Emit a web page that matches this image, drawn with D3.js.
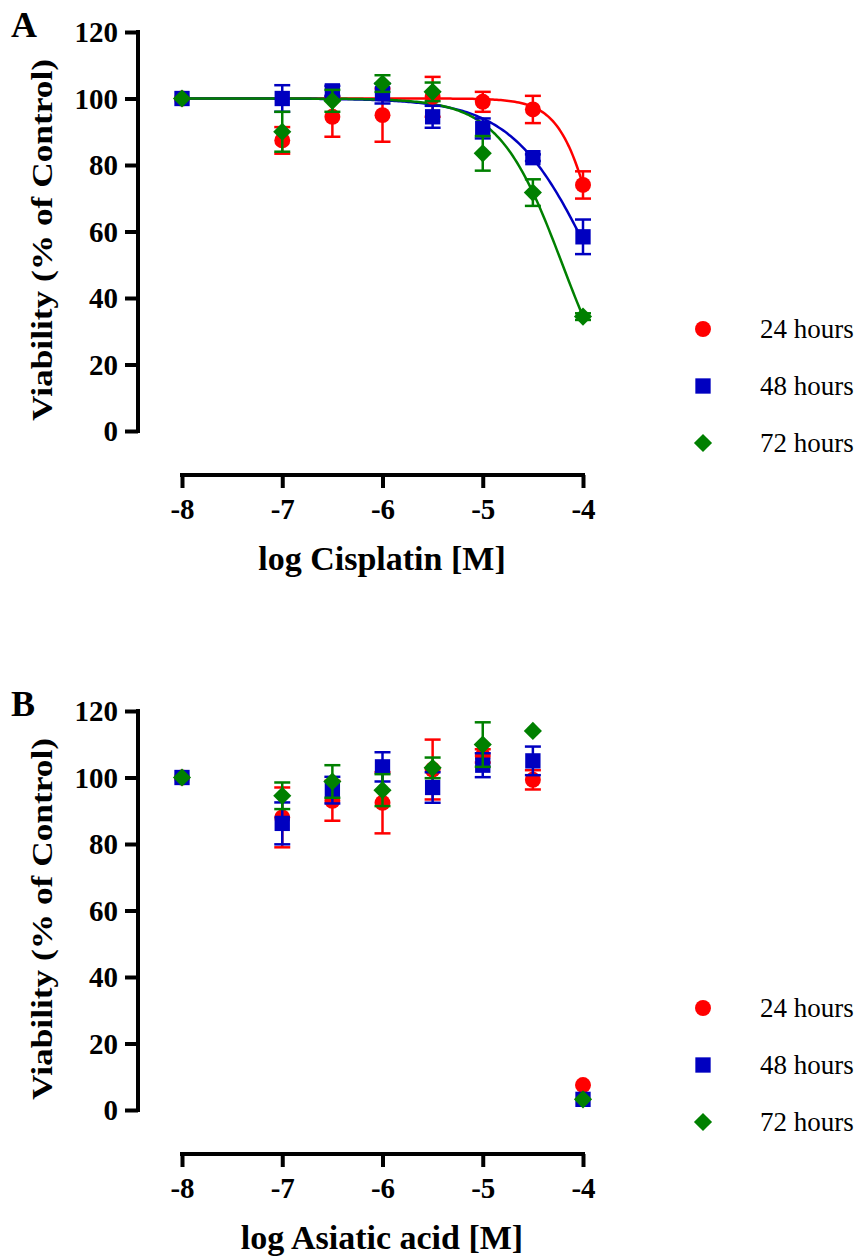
<!DOCTYPE html>
<html>
<head>
<meta charset="utf-8">
<script src="https://cdn.jsdelivr.net/npm/d3@7"></script>
</head>
<body style="margin:0">
<svg id="chart" width="862" height="1258"></svg>
<script>
// ---------------- DATA ----------------
const doses = [-8, -7, -6.5, -6, -5.5, -5, -4.5, -4];
const seriesNames = ["24 hours", "48 hours", "72 hours"];
const xTicks = [-8, -7, -6, -5, -4];
const yTicks = [0, 20, 40, 60, 80, 100, 120];

// Panel A: Cisplatin
const cis24 = [100, 87.4, 94.5, 95.0, 100.5, 99.0, 96.7, 74.0];
const cis24Err = [0, 4.0, 6.0, 8.0, 6.0, 3.0, 4.1, 4.1];
const cis48 = [100, 100.0, 102.3, 101.5, 94.5, 91.0, 82.2, 58.4];
const cis48Err = [0, 4.0, 1.5, 3.0, 3.3, 3.0, 1.0, 5.2];
const cis72 = [100, 90.0, 99.3, 104.5, 102.0, 83.5, 71.7, 34.4];
const cis72Err = [0, 6.0, 3.3, 2.5, 2.8, 5.2, 4.0, 1.0];
// sigmoidal fit parameters (top 100, bottom 0)
const cisFitLogIC50 = [-3.80, -3.886, -4.204];
const cisFitHill = [2.27, 1.07, 1.37];

// Panel B: Asiatic acid
const aa24 = [100, 88.0, 93.0, 92.4, 102.4, 106.5, 99.3, 7.5];
const aa24Err = [0, 9.0, 6.0, 9.2, 9.0, 2.0, 2.9, 0];
const aa48 = [100, 86.2, 96.2, 103.2, 97.0, 103.7, 105.0, 3.2];
const aa48Err = [0, 6.3, 4.0, 4.4, 4.6, 3.6, 4.3, 0];
const aa72 = [100, 94.5, 98.8, 96.2, 102.9, 109.9, 114.0, 3.2];
const aa72Err = [0, 4.0, 4.9, 4.8, 3.1, 6.7, 0, 0];

// ---------------- STYLE ----------------
const colors = ["#ff0000", "#0000c0", "#008000"];
const shapes = [d3.symbolCircle, d3.symbolSquare, d3.symbolSquare];
const shapeRot = [0, 0, 45];
const shapeSizes = [200, 235, 165];
const FONT = '"Liberation Serif"';

const svg = d3.select("#chart");

function styleText(sel, size, bold) {
  return sel.style("font-family", FONT)
    .attr("font-size", size)
    .attr("font-weight", bold ? "bold" : "normal")
    .attr("fill", "#000");
}

function marker(sel, i, cx, cy) {
  return sel.append("path")
    .attr("transform", `translate(${cx},${cy}) rotate(${shapeRot[i]})`)
    .attr("d", d3.symbol().type(shapes[i]).size(shapeSizes[i]))
    .attr("fill", colors[i]);
}

function drawPanel(cfg) {
  const g = svg.append("g").attr("transform", `translate(0,${cfg.dy})`);
  const x = d3.scaleLinear().domain([-8, -4]).range([182, 583]);
  const y = d3.scaleLinear().domain([0, 120]).range([431, 32]);

  // panel letter
  styleText(g.append("text").attr("x", 11).attr("y", 37), 36, true).text(cfg.letter);

  // Y axis
  const yAxis = g.append("g").attr("transform", "translate(138,0)")
    .call(d3.axisLeft(y).tickValues(yTicks).tickSize(13).tickPadding(7).tickSizeOuter(0));
  yAxis.attr("font-family", null).attr("font-size", null);
  yAxis.select(".domain").attr("stroke", "#000").attr("stroke-width", 4)
    .attr("d", `M0,${y(120) - 2}V${y(0) + 2}`);
  yAxis.selectAll(".tick line").attr("stroke", "#000").attr("stroke-width", 4);
  styleText(yAxis.selectAll(".tick text"), 29, true).attr("dy", "0.34em");

  // X axis (offset below)
  const xAxis = g.append("g").attr("transform", "translate(0,475)")
    .call(d3.axisBottom(x).tickValues(xTicks).tickSize(13).tickPadding(10).tickSizeOuter(0)
      .tickFormat(d3.format("d")));
  xAxis.attr("font-family", null).attr("font-size", null);
  xAxis.select(".domain").attr("stroke", "#000").attr("stroke-width", 4)
    .attr("d", `M${x(-8) - 2},0H${x(-4) + 2}`);
  xAxis.selectAll(".tick line").attr("stroke", "#000").attr("stroke-width", 4);
  styleText(xAxis.selectAll(".tick text"), 29, true)
    .text(d => (d < 0 ? "-" : "") + Math.abs(d));

  // axis titles
  styleText(g.append("text").attr("x", 382).attr("y", 570).attr("text-anchor", "middle"), 34, true)
    .text(cfg.xTitle);
  styleText(g.append("text").attr("transform", "translate(52,240) rotate(-90)")
    .attr("text-anchor", "middle"), 30, true)
    .attr("textLength", 362).attr("lengthAdjust", "spacingAndGlyphs")
    .text("Viability (% of Control)");

  // fit curves
  if (cfg.fit) {
    const xs = d3.range(-8, -3.999, 0.02);
    cfg.series.forEach((s, i) => {
      const c = cfg.fit.logIC50[i], h = cfg.fit.hill[i];
      const pts = xs.map(xx => [xx, 100 / (1 + Math.pow(10, (xx - c) * h))]);
      g.append("path").datum(pts)
        .attr("fill", "none").attr("stroke", colors[i]).attr("stroke-width", 2.5)
        .attr("d", d3.line().x(d => x(d[0])).y(d => y(d[1])));
    });
  }

  // error bars and markers
  cfg.series.forEach((s, i) => {
    const sg = g.append("g");
    const pts = doses.map((d, k) => ({ x: d, v: s.mean[k], e: s.err[k] }));
    const eb = sg.selectAll(".eb").data(pts.filter(p => p.e > 0)).enter().append("g")
      .attr("stroke", colors[i]).attr("stroke-width", 2.5);
    eb.append("line").attr("x1", p => x(p.x)).attr("x2", p => x(p.x))
      .attr("y1", p => y(p.v + p.e)).attr("y2", p => y(p.v - p.e));
    eb.append("line").attr("x1", p => x(p.x) - 8).attr("x2", p => x(p.x) + 8)
      .attr("y1", p => y(p.v + p.e)).attr("y2", p => y(p.v + p.e));
    eb.append("line").attr("x1", p => x(p.x) - 8).attr("x2", p => x(p.x) + 8)
      .attr("y1", p => y(p.v - p.e)).attr("y2", p => y(p.v - p.e));
    pts.forEach(p => marker(sg, i, x(p.x), y(p.v)));
  });

  // legend
  seriesNames.forEach((name, i) => {
    const ly = 329 + i * 57;
    marker(g, i, 703, ly);
    styleText(g.append("text").attr("x", 760).attr("y", ly + 9), 27, false).text(name);
  });
}

drawPanel({
  dy: 0, letter: "A", xTitle: "log Cisplatin [M]",
  series: [
    { mean: cis24, err: cis24Err },
    { mean: cis48, err: cis48Err },
    { mean: cis72, err: cis72Err }
  ],
  fit: { logIC50: cisFitLogIC50, hill: cisFitHill }
});

drawPanel({
  dy: 679, letter: "B", xTitle: "log Asiatic acid [M]",
  series: [
    { mean: aa24, err: aa24Err },
    { mean: aa48, err: aa48Err },
    { mean: aa72, err: aa72Err }
  ],
  fit: null
});
</script>
</body>
</html>
